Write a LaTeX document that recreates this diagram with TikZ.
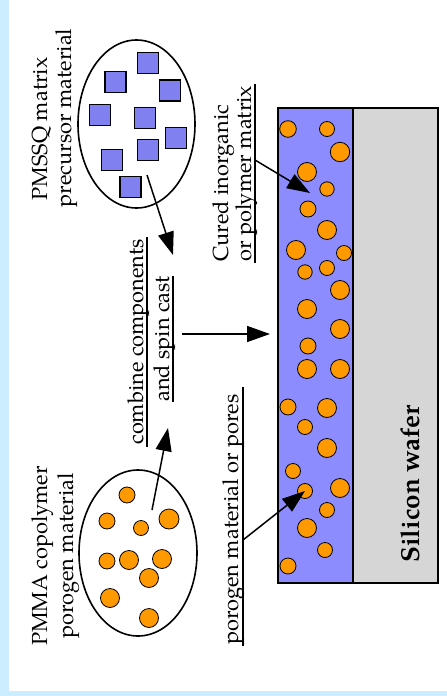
\documentclass[tikz,border=0pt]{standalone}
\usepackage{fontspec}
\setmainfont{TeX Gyre Pagella}
\usetikzlibrary{arrows.meta}
\definecolor{bgblue}{RGB}{204,236,255}
\definecolor{layerblue}{RGB}{140,140,255}
\definecolor{sqblue}{RGB}{128,128,240}
\definecolor{porange}{RGB}{255,153,0}
\definecolor{wafergray}{RGB}{214,214,214}
\begin{document}
\begin{tikzpicture}[x=1pt,y=-1pt,
  lbl/.style={rotate=90,inner sep=0pt,font=\fontsize{21.8}{25}\selectfont},
  arr/.style={line width=1.5pt,-{Triangle[length=23pt,width=16pt]}},
  uline/.style={line width=1.2pt},
  pore/.style={fill=porange,draw=black,line width=0.8pt},
  sq/.style={fill=sqblue,draw=black,line width=1.5pt,minimum size=21pt,inner sep=0pt},
  outl/.style={draw=black,line width=1.6pt}]
\useasboundingbox (0,0) rectangle (447,696);
\fill[bgblue] (0,0) rectangle (447,696);
\fill[white] (9,0) rectangle (447,691);

% ellipses
\draw[outl,fill=white] (136.5,124) ellipse[x radius=58.5pt,y radius=84pt];
\draw[outl,fill=white] (138,553) ellipse[x radius=59pt,y radius=83pt];

% squares (PMSSQ)
\node[sq] (s1) at (148,63) {};
\node[sq] (s2) at (115.5,82) {};
\node[sq] (s3) at (170,90.5) {};
\node[sq] (s4) at (100,115) {};
\node[sq] (s5) at (145,118) {};
\node[sq] (s6) at (176,138) {};
\node[sq] (s7) at (148,150) {};
\node[sq] (s8) at (112,160) {};
\node[sq] (s9) at (130.5,187) {};

% porogen particles (PMMA)
\foreach \x/\y/\r in {127/495/8,107/521/8,141/528/7.5,169/519/10,107/561/8,129/560/9.5,162/559/9.5,149/578/9.5,110/598/9.5,149/618/9.5}
  \draw[pore] (\x,\y) circle[radius=\r pt];

% film and wafer
\fill[layerblue] (278,108) rectangle (353,583);
\fill[wafergray] (353,108) rectangle (438,583);
\foreach \x/\y/\r in {288/129/8.3,327/129/7.5,340/152/9.7,307/172/9.5,327/189/7.2,308/209/8,327/230/9.5,296/250/9.5,344/253/7.5,305/272/7.2,327/268/7.5,340/290/9.5,307/309/9.5,340/329/9.5,308/346/8,307/369/9.5,340/369/9.5,288/407/8,327/408/9.5,305/427/7.5,327/448/9.5,293/471/7.5,305/491/7.5,340/488/9.5,327/510/7.5,307/528/9.5,325/550/7.5,288/566/8}
  \draw[pore] (\x,\y) circle[radius=\r pt];
\draw[outl] (278,108) rectangle (438,583);
\draw[outl] (353,108) -- (353,583);

% labels
\node[lbl,anchor=base] (t1) at (47,129) {PMSSQ matrix};
\node[lbl,anchor=base] (t2) at (71,118) {precursor material};
\node[lbl,anchor=base] (t3) at (143,342) {combine components};
\node[lbl,anchor=base] (t4) at (169,339) {and spin cast};
\draw[uline] (147,237) -- (147,447);
\draw[uline] (173,276) -- (173,402);
\node[lbl,anchor=base west] (t5) at (228,262) {Cured inorganic};
\node[lbl,anchor=base west] (t6) at (251,262) {or polymer matrix};
\draw[uline] (255,263) -- (255,84);
\node[lbl,anchor=base west] (t7) at (238.5,645) {porogen material or pores};
\draw[uline] (243,646) -- (243,387);
\node[lbl,anchor=base] (t8) at (47,556) {PMMA copolymer};
\node[lbl,anchor=base] (t9) at (73,556) {porogen material};
\node[lbl,anchor=base,font=\fontsize{26}{30}\selectfont\bfseries] (si) at (419,484) {Silicon wafer};

% arrows
\coordinate (a1s) at (147,175); \coordinate (a1e) at (173,255);
\coordinate (a2s) at (152,510); \coordinate (a2e) at (168,428);
\coordinate (a3s) at (182,334); \coordinate (a3e) at (270,334);
\coordinate (a4s) at (255,160); \coordinate (a4e) at (310,193);
\coordinate (a5s) at (243,540); \coordinate (a5e) at (305,491);
\draw[arr] (a1s) -- (a1e);
\draw[arr] (a2s) -- (a2e);
\draw[arr] (a3s) -- (a3e);
\draw[arr] (a4s) -- (a4e);
\draw[arr] (a5s) -- (a5e);
\end{tikzpicture}
\end{document}
